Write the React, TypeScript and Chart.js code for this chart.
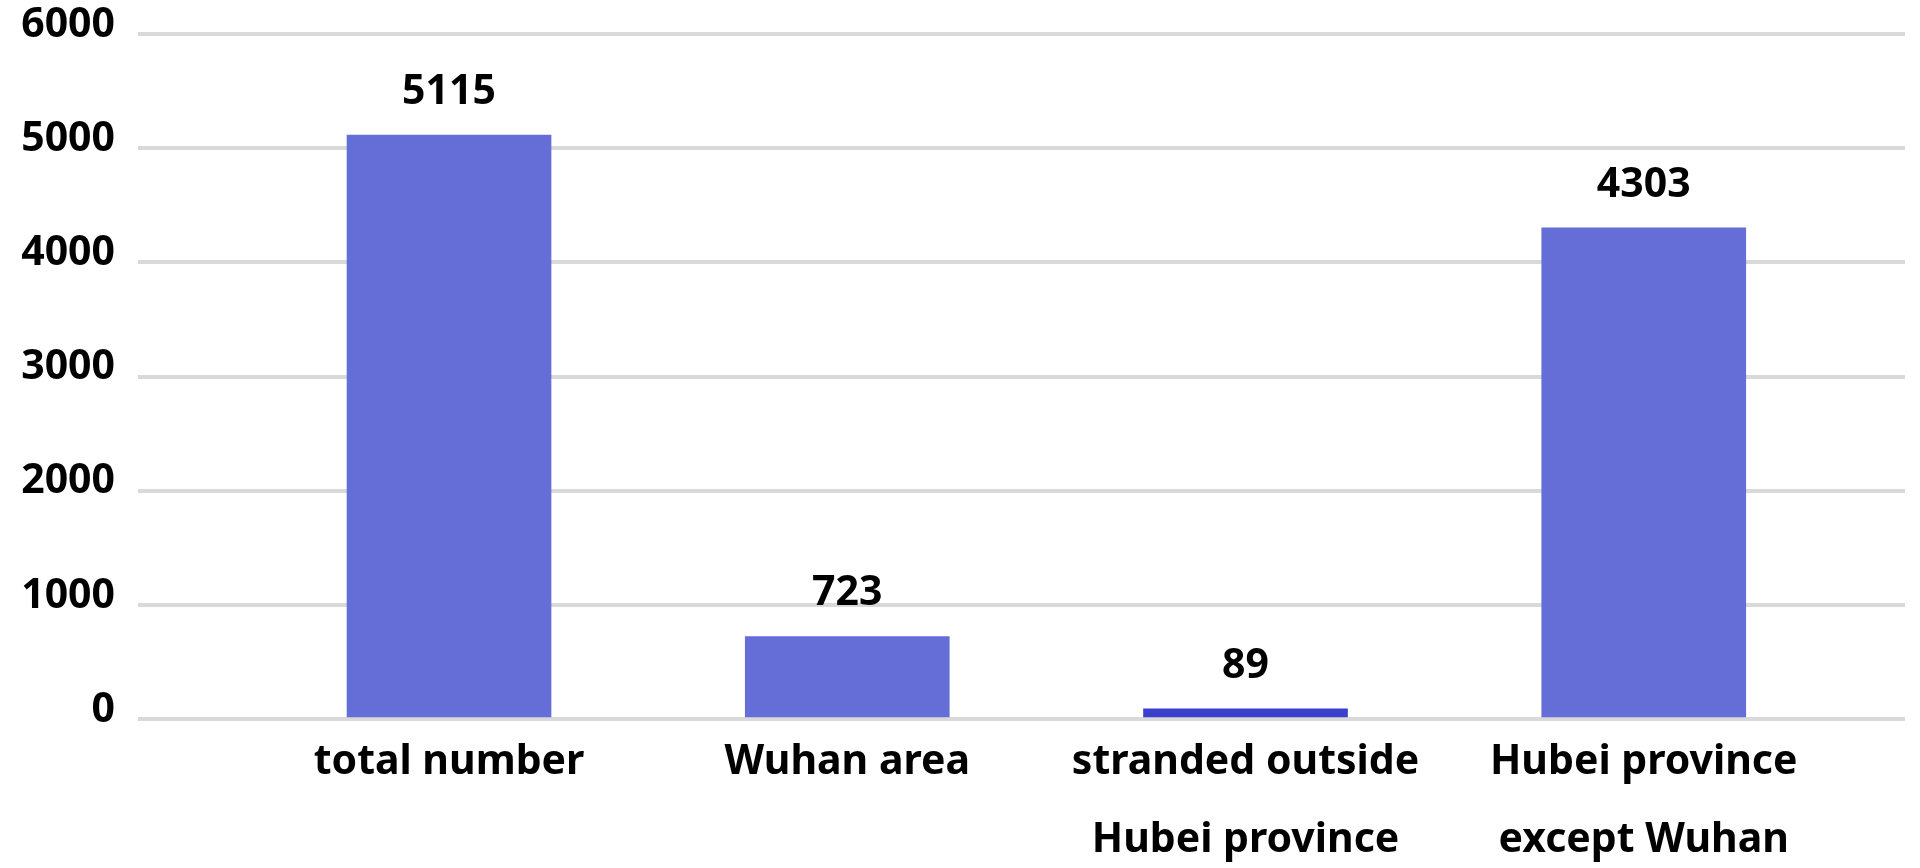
import React, { useEffect, useRef } from "react";
import { Chart, registerables } from "chart.js";

Chart.register(...registerables);

const categories: (string | string[])[] = [
  "total number",
  "Wuhan area",
  ["stranded outside", "Hubei province"],
  ["Hubei province", "except Wuhan"],
];
const values: number[] = [5115, 723, 89, 4303];
const barColors: string[] = ["#646ed6", "#646ed6", "#3a40cc", "#646ed6"];
const yTicks: number[] = [0, 1000, 2000, 3000, 4000, 5000, 6000];

const FONT = "'Noto Sans', 'DejaVu Sans', sans-serif";

const valueLabels = {
  id: "valueLabels",
  afterDatasetsDraw(chart: any) {
    const ctx = chart.ctx;
    const meta = chart.getDatasetMeta(0);
    ctx.save();
    ctx.font = `bold 41px ${FONT}`;
    ctx.fillStyle = "#000";
    ctx.textAlign = "center";
    ctx.textBaseline = "alphabetic";
    meta.data.forEach((bar: any, i: number) => {
      ctx.fillText(String(values[i]), bar.x, bar.y - 31);
    });
    ctx.restore();
  },
};

export default function App() {
  const ref = useRef<HTMLCanvasElement | null>(null);

  useEffect(() => {
    document.body.style.margin = "0";
    if (!ref.current) return;
    const chart = new Chart(ref.current, {
      type: "bar",
      data: {
        datasets: [
          {
            data: values.map((v, i) => ({ x: i, y: v })),
            backgroundColor: barColors,
            borderWidth: 0,
            barThickness: 204,
          },
        ],
      },
      options: {
        animation: false,
        responsive: true,
        maintainAspectRatio: false,
        layout: { padding: { top: 34, right: 15, left: 0, bottom: 0 } },
        plugins: {
          legend: { display: false },
          tooltip: { enabled: false },
        },
        scales: {
          x: {
            type: "linear",
            offset: false,
            min: -0.781,
            max: 3.656,
            grid: { display: false },
            border: { display: false },
            afterBuildTicks: (axis: any) => {
              axis.ticks = categories.map((_, i) => ({ value: i }));
            },
            afterFit: (axis: any) => {
              axis.height = 149;
              axis.paddingLeft = 0;
              axis.paddingRight = 0;
            },
            ticks: {
              autoSkip: false,
              maxRotation: 0,
              minRotation: 0,
              padding: -4,
              color: "#000",
              font: { family: FONT, size: 41, weight: "bold", lineHeight: 1.9 },
              callback: (value: any) => {
                const i = Number(value);
                return Number.isInteger(i) && categories[i] !== undefined ? (categories[i] as any) : null;
              },
            },
          },
          y: {
            min: 0,
            max: 6000,
            afterBuildTicks: (axis: any) => {
              axis.ticks = yTicks.map((v) => ({ value: v }));
            },
            afterFit: (axis: any) => {
              axis.width = 138;
              axis.paddingTop = 0;
              axis.paddingBottom = 0;
            },
            grid: { color: "#d9d9d9", lineWidth: 4, drawTicks: false },
            border: { display: false },
            ticks: {
              padding: 23,
              labelOffset: -9,
              color: "#000",
              font: { family: FONT, size: 41, weight: "bold" },
              callback: (value: any) => String(value),
            },
          },
        },
      },
      plugins: [valueLabels],
    });
    return () => chart.destroy();
  }, []);

  return (
    <div style={{ position: "relative", width: "1920px", height: "868px", background: "#fff" }}>
      <canvas ref={ref} />
    </div>
  );
}
